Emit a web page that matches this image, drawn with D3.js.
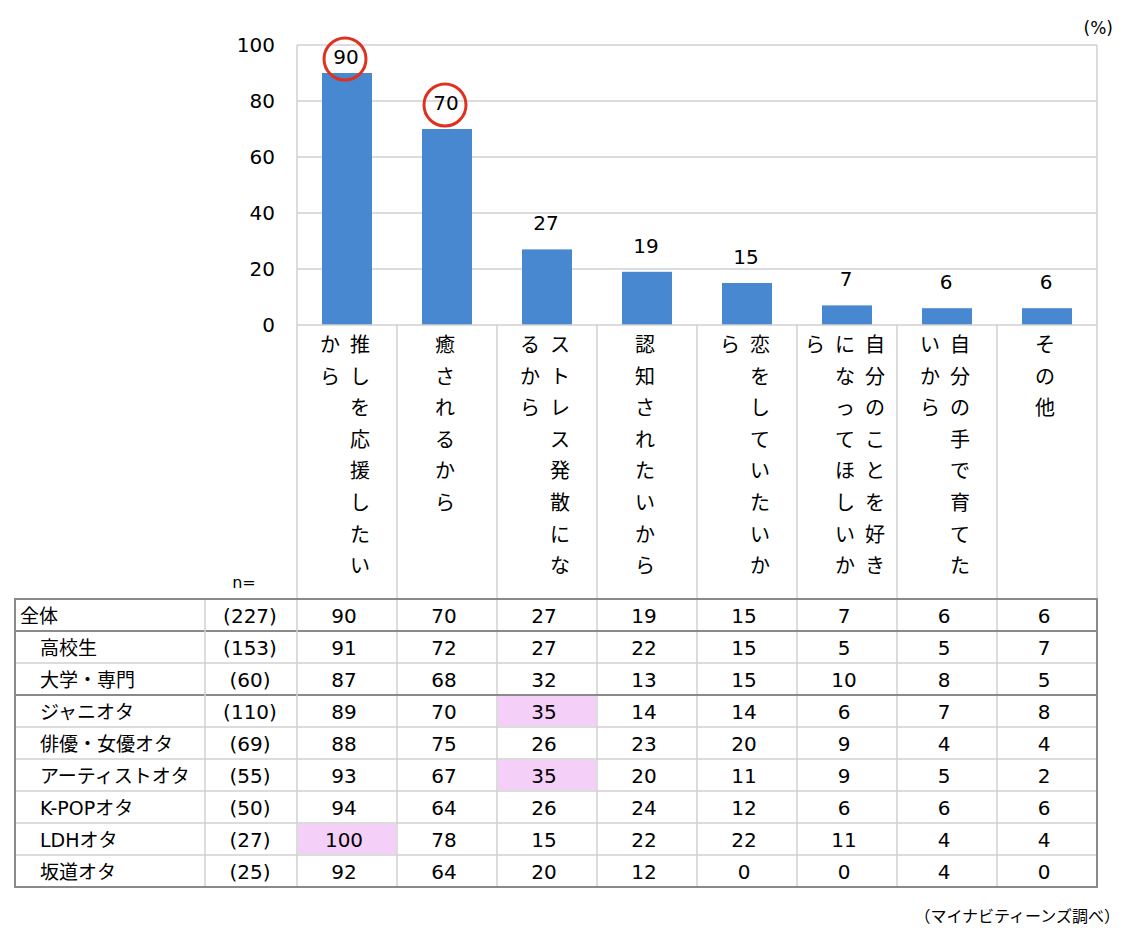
<!DOCTYPE html>
<html><head><meta charset="utf-8">
<script src="https://cdn.jsdelivr.net/npm/d3@7"></script>
<style>
body{margin:0;background:#fff;}
text{font-family:"DejaVu Sans","Noto Sans CJK JP",sans-serif;fill:#000;}
</style></head>
<body><svg id="c" width="1124" height="942"></svg>
<script>
const categories = ["推しを応援したいから","癒されるから","ストレス発散になるから","認知されたいから","恋をしていたいから","自分のことを好きになってほしいから","自分の手で育てたいから","その他"];
const overall = [90,70,27,19,15,7,6,6];
const circled = [0,1];
const yTicks = [0,20,40,60,80,100];
const rowLabels = ["全体","高校生","大学・専門","ジャニオタ","俳優・女優オタ","アーティストオタ","K-POPオタ","LDHオタ","坂道オタ"];
const rowN = ["(227)","(153)","(60)","(110)","(69)","(55)","(50)","(27)","(25)"];
const rowValues = [
  [90,70,27,19,15,7,6,6],
  [91,72,27,22,15,5,5,7],
  [87,68,32,13,15,10,8,5],
  [89,70,35,14,14,6,7,8],
  [88,75,26,23,20,9,4,4],
  [93,67,35,20,11,9,5,2],
  [94,64,26,24,12,6,6,6],
  [100,78,15,22,22,11,4,4],
  [92,64,20,12,0,0,4,0]
];
const highlights = [[3,2],[5,2],[7,0]];
const groupBreaks = [1,3];

const svg = d3.select("#c");
const x0 = 297, x1 = 1097, yTop = 45, yBot = 325;
const x = d3.scaleBand().domain(d3.range(categories.length)).range([x0,x1]).paddingInner(0.5).paddingOuter(0.25);
const col = d3.scaleBand().domain(d3.range(categories.length)).range([x0,x1]);
const y = d3.scaleLinear().domain([0,100]).range([yBot,yTop]);
const light = "#d0d0d0", dark = "#8a8a8a";
const labelY = d => Math.max(y(d)-26, 57);

// gridlines
svg.append("g").selectAll("line").data(yTicks.filter(d=>d>0)).join("line")
  .attr("x1",x0).attr("x2",x1).attr("y1",d=>y(d)).attr("y2",d=>y(d))
  .attr("stroke",light).attr("stroke-width",1.5);
svg.append("line").attr("x1",x0).attr("x2",x0).attr("y1",yTop).attr("y2",599).attr("stroke",light).attr("stroke-width",1.5);
svg.append("line").attr("x1",x1).attr("x2",x1).attr("y1",yTop).attr("y2",599).attr("stroke",light).attr("stroke-width",1.5);
// y axis labels
const yAxis = d3.axisLeft(y).tickValues(yTicks).tickSize(0).tickPadding(22);
const ga = svg.append("g").attr("transform",`translate(${x0},0)`).call(yAxis);
ga.select(".domain").remove();
ga.selectAll("text").attr("font-size",20).attr("fill","#333").attr("font-family","DejaVu Sans");

// bars
svg.append("g").selectAll("rect").data(overall).join("rect")
  .attr("x",(d,i)=>x(i)).attr("width",x.bandwidth())
  .attr("y",d=>y(d)).attr("height",d=>yBot-y(d)).attr("fill","#4788d0");
svg.append("g").selectAll("text").data(overall).join("text")
  .attr("x",(d,i)=>x(i)+x.bandwidth()/2 - 1).attr("y",d=>labelY(d))
  .attr("dominant-baseline","central")
  .attr("text-anchor","middle").attr("font-size",20).text(d=>d);
svg.append("g").selectAll("circle").data(circled).join("circle")
  .attr("cx",i=>x(i)+x.bandwidth()/2 - 2).attr("cy",i=>labelY(overall[i])+2)
  .attr("r",21).attr("fill","none").attr("stroke","#e0301e").attr("stroke-width",3);

svg.append("line").attr("x1",x0).attr("x2",x1).attr("y1",yBot).attr("y2",yBot).attr("stroke",light).attr("stroke-width",1.5);
svg.append("g").selectAll("line").data(d3.range(1,categories.length)).join("line")
  .attr("x1",i=>col(i)).attr("x2",i=>col(i)).attr("y1",yBot).attr("y2",887)
  .attr("stroke",light).attr("stroke-width",1.5);

// vertical labels
const perCol = 8, colStep = 30, charStep = 31.6;
categories.forEach((lab,i)=>{
  const chars = Array.from(lab);
  const ncols = Math.ceil(chars.length/perCol);
  const cx = col(i)+col.bandwidth()/2 - 2;
  chars.forEach((ch,k)=>{
    const c = Math.floor(k/perCol), r = k%perCol;
    svg.append("text").attr("x",cx + (ncols-1)/2*colStep - c*colStep)
      .attr("y",345 + r*charStep).attr("dominant-baseline","central")
      .attr("text-anchor","middle").attr("font-size",20).attr("font-family","Noto Sans CJK JP").text(ch);
  });
});

svg.append("text").attr("x",244).attr("y",588).attr("text-anchor","middle").attr("font-size",16).text("n=");
svg.append("text").attr("x",1113).attr("y",34).attr("text-anchor","end").attr("font-size",17).text("(%)");

// table
const tTop = 599, rowH = 32, tLeft = 15, nSep = 205;
const ry = i => tTop + i*rowH;
svg.append("g").selectAll("rect").data(highlights).join("rect")
  .attr("x",d=>col(d[1])+1).attr("width",col.bandwidth()-2)
  .attr("y",d=>ry(d[0])+1).attr("height",rowH-2).attr("fill","#f4d0f8");
svg.append("g").selectAll("line").data(d3.range(1,rowLabels.length)).join("line")
  .attr("x1",tLeft).attr("x2",x1).attr("y1",i=>ry(i)).attr("y2",i=>ry(i))
  .attr("stroke",i=>groupBreaks.includes(i)?dark:light).attr("stroke-width",i=>groupBreaks.includes(i)?2:1.5);
svg.append("line").attr("x1",nSep).attr("x2",nSep).attr("y1",tTop).attr("y2",ry(rowLabels.length)).attr("stroke",light).attr("stroke-width",1.5);
svg.append("line").attr("x1",x0).attr("x2",x0).attr("y1",tTop).attr("y2",ry(rowLabels.length)).attr("stroke",light).attr("stroke-width",1.5);
svg.append("rect").attr("x",tLeft).attr("y",tTop).attr("width",x1-tLeft).attr("height",rowH*rowLabels.length)
  .attr("fill","none").attr("stroke",dark).attr("stroke-width",2);

rowLabels.forEach((lab,i)=>{
  const cy = ry(i)+rowH/2+1;
  svg.append("text").attr("x",i===0?20:40).attr("y",cy).attr("dominant-baseline","central")
    .attr("font-size",19).attr("font-family","Noto Sans CJK JP").text(lab);
  svg.append("text").attr("x",250).attr("y",cy).attr("dominant-baseline","central")
    .attr("text-anchor","middle").attr("font-size",20).text(rowN[i]);
  rowValues[i].forEach((v,j)=>{
    svg.append("text").attr("x",col(j)+col.bandwidth()/2 - 3).attr("y",cy).attr("dominant-baseline","central")
      .attr("text-anchor","middle").attr("font-size",20).text(v);
  });
});

svg.append("text").attr("x",1120).attr("y",922).attr("text-anchor","end").attr("font-size",16)
  .attr("font-family","Noto Sans CJK JP").text("（マイナビティーンズ調べ）");
</script></body></html>
